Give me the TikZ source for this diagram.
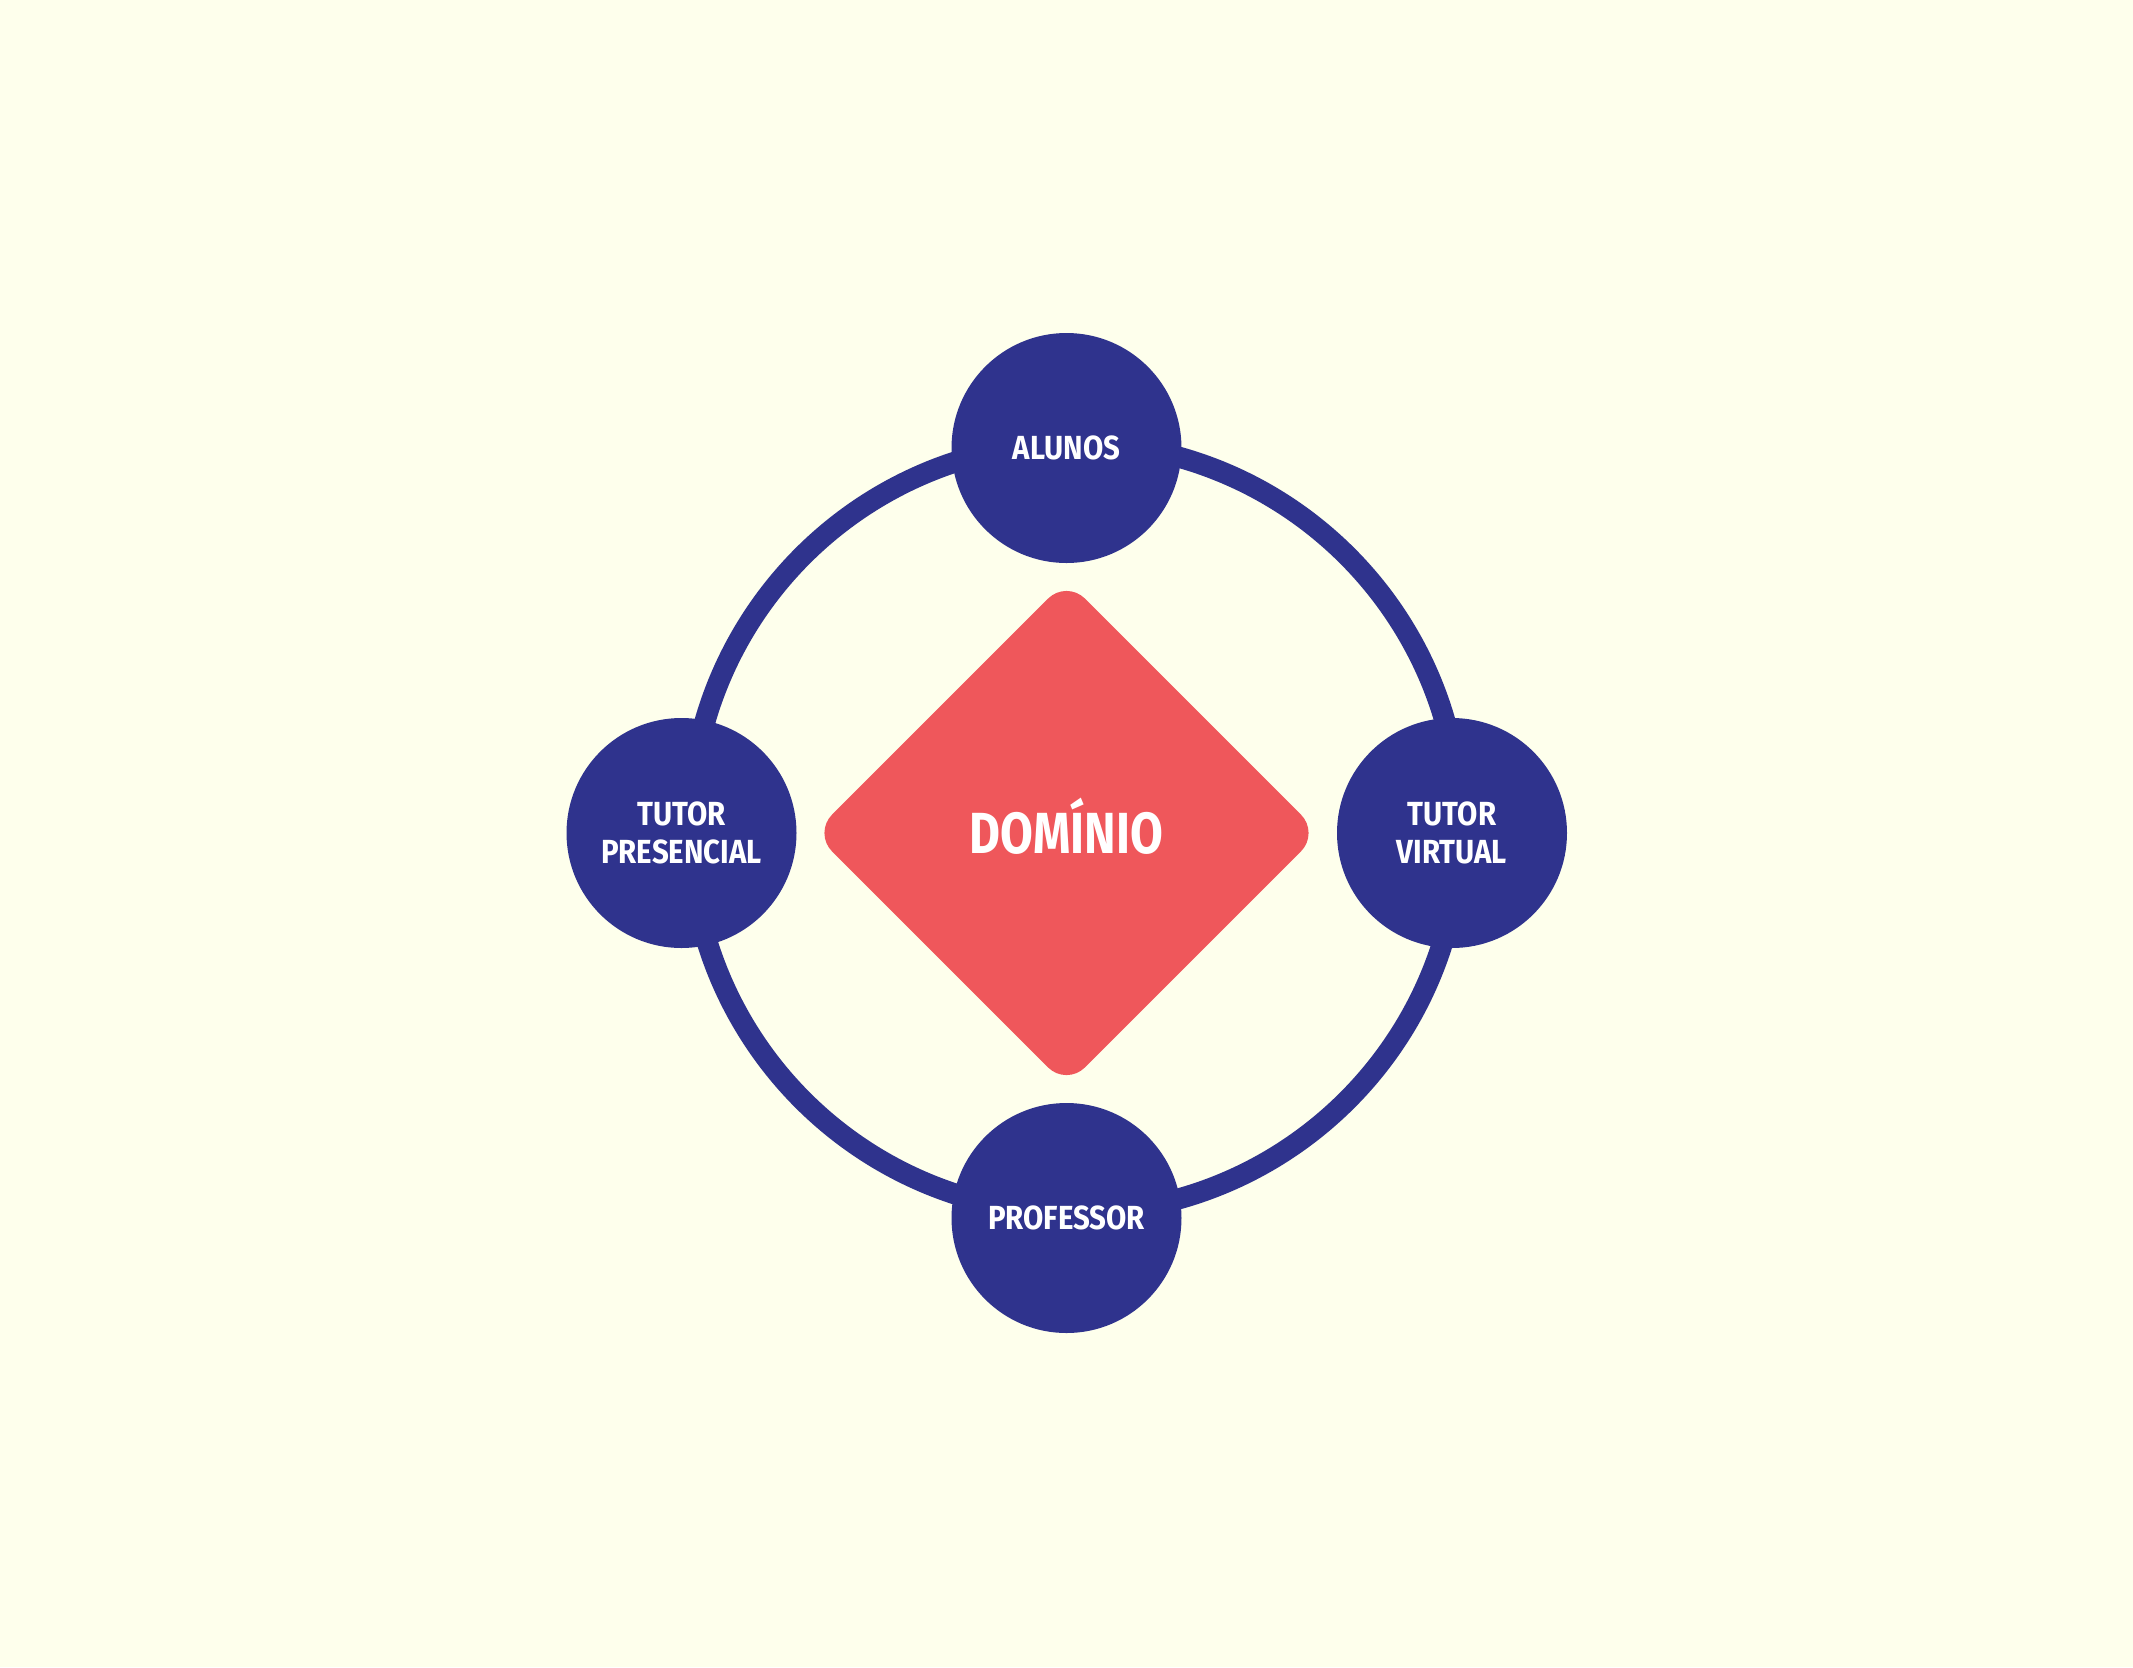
\documentclass[tikz,border=0pt]{standalone}
\usepackage{fontspec}
\newfontfamily\rolefont{Fira Sans}[FakeStretch=0.88]
\newfontfamily\corefont{Fira Sans}[FakeStretch=0.82]
\usetikzlibrary{shapes.geometric}
\definecolor{paper}{RGB}{254,255,236}
\definecolor{navy}{RGB}{47,51,141}
\definecolor{coral}{RGB}{239,87,91}
\tikzset{
  ring/.style={draw=navy, line width=10.5pt},
  role/.style={circle, fill=navy, minimum size=115pt, inner sep=0pt,
    text=white, align=center,
    font=\rolefont\bfseries\fontsize{16.7}{19}\selectfont},
  core/.style={diamond, fill=coral, aspect=1, inner sep=0pt,
    minimum width=253pt, minimum height=253pt, rounded corners=13pt},
  corelabel/.style={text=white, inner sep=0pt,
    font=\corefont\bfseries\fontsize{29}{34}\selectfont}
}
\begin{document}
\begin{tikzpicture}[x=0.5pt,y=-0.5pt]
  % page
  \fill[paper] (0,0) rectangle (2133,1667);
  \useasboundingbox (0,0) rectangle (2133,1667);

  % ring linking the four roles
  \coordinate (hub) at (1075,828);
  \draw[ring] (hub) circle[radius=192.5pt];

  % roles
  \node[role] (alunos)    at (1066.5,448)  {ALUNOS};
  \node[role] (presencial) at (681.5,833)  {TUTOR\\PRESENCIAL};
  \node[role] (virtual)   at (1452,833)    {TUTOR\\VIRTUAL};
  \node[role] (professor) at (1066.5,1218) {PROFESSOR};

  % central domain
  \node[core] (dominio) at (1066.5,833) {};
  \node[corelabel, anchor=base] (dominiotext) at (1066.5,853) {DOMÍNIO};
\end{tikzpicture}
\end{document}
